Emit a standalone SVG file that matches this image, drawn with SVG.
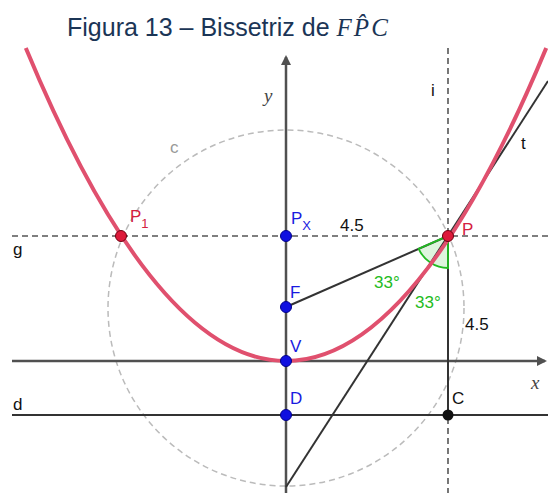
<svg xmlns="http://www.w3.org/2000/svg" width="548" height="493" viewBox="0 0 548 493">
<defs>
<marker id="arr" markerWidth="10" markerHeight="10" refX="8" refY="5" orient="auto" markerUnits="userSpaceOnUse">
<path d="M0,0 L10,5 L0,10 Z" fill="#505050"/>
</marker>
<style>
.axis{stroke:#505050;stroke-width:2.5;fill:none}
.ln{stroke:#333;stroke-width:2;fill:none}
.dash{stroke:#555;stroke-width:1.6;stroke-dasharray:6,4;fill:none}
.circ{stroke:#bbb;stroke-width:1.5;stroke-dasharray:6,4;fill:none}
.par{stroke:#e0506e;stroke-width:4;fill:none}
.lbl{font-family:"Liberation Sans",Arial,sans-serif;font-size:17px}
.blue{fill:#1a1ae0}
.red{fill:#d4203f}
.blk{fill:#111}
.grn{fill:#22bb22}
.ax{font-family:"Liberation Serif",serif;font-style:italic;font-size:19px;fill:#444}
.pb{fill:#1010e0;stroke:#00008a;stroke-width:1}
.pr{fill:#dd1a3a;stroke:#700010;stroke-width:1}
</style>
</defs>
<rect width="548" height="493" fill="#fff"/>
<g id="title">
<text x="67" y="36" font-family="Liberation Sans,Arial,sans-serif" font-size="25" fill="#1b3556">Figura 13 – Bissetriz de <tspan font-family="Liberation Serif,serif" font-style="italic" font-size="25">F</tspan><tspan font-family="Liberation Serif,serif" font-style="italic" font-size="25" dx="2">P̂</tspan><tspan font-family="Liberation Serif,serif" font-style="italic" font-size="25" dx="2">C</tspan></text>
</g>
<g id="connectors">
<circle id="c" class="circ" cx="286" cy="308" r="178"/>
<line id="g" class="dash" x1="12" y1="236" x2="548" y2="236"/>
<line id="i" class="dash" x1="448" y1="48" x2="448" y2="493"/>
<line id="xaxis" class="axis" x1="12" y1="361" x2="545" y2="361" marker-end="url(#arr)"/>
<line id="yaxis" class="axis" x1="286" y1="493" x2="286" y2="57" marker-end="url(#arr)"/>
<line id="d" class="ln" x1="12" y1="415" x2="548" y2="415"/>
<line id="PC" class="ln" x1="448" y1="236" x2="448" y2="415"/>
<line id="PF" class="ln" x1="448" y1="236" x2="286" y2="307"/>
<path id="angle" d="M448,236 L448,268 A32,32 0 0 1 418.7,248.8 Z" fill="#22bb22" fill-opacity="0.15" stroke="#22bb22" stroke-width="1.8"/>
<line id="t" class="ln" x1="286" y1="487" x2="548" y2="81"/>
<path id="parabola" class="par" d="M25.8,48 Q286,674 546.2,48"/>
</g>
<g id="labels">
<text class="lbl" x="170" y="153" fill="#999">c</text>
<text class="ax" x="264" y="102">y</text>
<text class="ax" x="531" y="389">x</text>
<text class="lbl blk" x="431" y="96">i</text>
<text class="lbl blk" x="521" y="149">t</text>
<text class="lbl blk" x="13" y="255">g</text>
<text class="lbl blk" x="13" y="410">d</text>
<text class="lbl blk" x="340" y="231">4.5</text>
<text class="lbl blk" x="465" y="330">4.5</text>
<text class="lbl grn" x="374" y="288">33°</text>
<text class="lbl grn" x="415" y="308">33°</text>
</g>
<g id="P1"><circle class="pr" cx="121" cy="236" r="5.5"/><text class="lbl red" x="130" y="222">P<tspan font-size="13" dy="6">1</tspan></text></g>
<g id="Px"><circle class="pb" cx="286" cy="236" r="5.5"/><text class="lbl blue" x="291" y="224">P<tspan font-size="13" dy="6">X</tspan></text></g>
<g id="P"><circle class="pr" cx="448" cy="236" r="5.5"/><text class="lbl red" x="462" y="235">P</text></g>
<g id="F"><circle class="pb" cx="286" cy="307" r="5.5"/><text class="lbl blue" x="290" y="298">F</text></g>
<g id="V"><circle class="pb" cx="286" cy="361" r="5.5"/><text class="lbl blue" x="290" y="352">V</text></g>
<g id="D"><circle class="pb" cx="286" cy="415" r="5.5"/><text class="lbl blue" x="290" y="404">D</text></g>
<g id="C"><circle cx="448" cy="415" r="5.5" fill="#111"/><text class="lbl blk" x="452" y="404">C</text></g>
</svg>
